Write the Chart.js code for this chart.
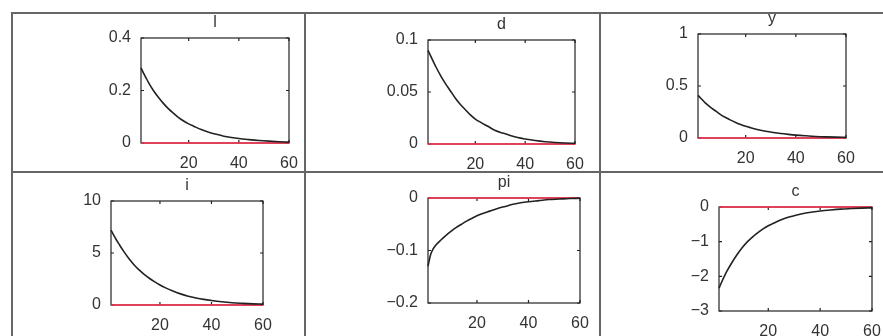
<!DOCTYPE html>
<html>
<head>
<meta charset="utf-8">
<title>Impulse responses</title>
<script src="https://cdn.jsdelivr.net/npm/chart.js@4.4.1/dist/chart.umd.min.js"></script>
<style>
  body { margin: 0; background: #fff; }
  #page { position: relative; width: 883px; height: 336px; overflow: hidden; background: #fff; }
  .rule { position: absolute; background: #666; }
  canvas { position: absolute; }
</style>
</head>
<body>
<div id="page">
  <div class="rule" style="left:11px; top:12px; width:872px; height:2px"></div>
  <div class="rule" style="left:11px; top:171px; width:872px; height:2px"></div>
  <div class="rule" style="left:11px; top:12px; width:2px; height:324px"></div>
  <div class="rule" style="left:304px; top:12px; width:2px; height:324px"></div>
  <div class="rule" style="left:599px; top:12px; width:2px; height:324px"></div>
</div>

<script>
// Periods after the shock (shared by all panels)
const periods = [1, 2, 3, 4, 6, 8, 10, 12, 14, 16, 18, 20, 22, 25, 28, 31, 34, 37, 40, 44, 48, 52, 56, 60];

// Responses
const lValues = [0.286, 0.266, 0.248, 0.23, 0.199, 0.173, 0.15, 0.13, 0.113, 0.097, 0.084, 0.073, 0.064, 0.051, 0.041, 0.033, 0.026, 0.021, 0.017, 0.013, 0.0095, 0.007, 0.005, 0.0035];
const dValues = [0.09, 0.085, 0.08, 0.075, 0.066, 0.058, 0.051, 0.044, 0.038, 0.033, 0.028, 0.024, 0.021, 0.017, 0.013, 0.0105, 0.0082, 0.0062, 0.0048, 0.0033, 0.0022, 0.0015, 0.001, 0.0007];
const yValues = [0.41, 0.385, 0.36, 0.335, 0.295, 0.26, 0.225, 0.197, 0.172, 0.15, 0.13, 0.113, 0.099, 0.08, 0.065, 0.053, 0.043, 0.035, 0.028, 0.021, 0.015, 0.011, 0.008, 0.006];
const iValues = [7.2, 6.75, 6.3, 5.9, 5.13, 4.45, 3.85, 3.35, 2.92, 2.55, 2.22, 1.93, 1.67, 1.34, 1.07, 0.85, 0.68, 0.54, 0.43, 0.31, 0.22, 0.16, 0.11, 0.08];
const piValues = [-0.13, -0.108, -0.097, -0.09, -0.08, -0.071, -0.063, -0.056, -0.05, -0.044, -0.039, -0.034, -0.03, -0.025, -0.02, -0.016, -0.012, -0.009, -0.007, -0.005, -0.003, -0.002, -0.001, -0.0005];
const cValues = [-2.34, -2.17, -2.01, -1.86, -1.6, -1.37, -1.17, -1.0, -0.86, -0.74, -0.63, -0.54, -0.47, -0.37, -0.29, -0.23, -0.18, -0.145, -0.115, -0.085, -0.06, -0.045, -0.032, -0.024];

// Steady state line
const steadyPeriods = [1, 60];
const steadyLevel = [0, 0];

// Tick labels
const xTicks = [20, 40, 60];
const lTicks = [0, 0.2, 0.4];
const dTicks = [0, 0.05, 0.1];
const yTicks = [0, 0.5, 1];
const iTicks = [0, 5, 10];
const piTicks = [-0.2, -0.1, 0];
const cTicks = [-3, -2, -1, 0];

const titles = ['l', 'd', 'y', 'i', 'pi', 'c'];

// Plot area of every panel on the page: left, top, width, height
const panels = [
    { title: titles[0], values: lValues, ticks: lTicks, box: [141, 38, 148, 105] },
    { title: titles[1], values: dValues, ticks: dTicks, box: [428, 40, 147, 104] },
    { title: titles[2], values: yValues, ticks: yTicks, box: [698, 34, 148, 104] },
    { title: titles[3], values: iValues, ticks: iTicks, box: [111, 201, 152, 104] },
    { title: titles[4], values: piValues, ticks: piTicks, box: [428, 198, 152, 105] },
    { title: titles[5], values: cValues, ticks: cTicks, box: [719, 207, 153, 104] }
];

const FONT = '"Liberation Sans", Arial, sans-serif';
const PAD_LEFT = 60, PAD_TOP = 30, PAD_RIGHT = 15, PAD_BOTTOM = 25;

// MATLAB style labels use a real minus sign
function tickText(v) {
    return String(v).replace('-', '\u2212');
}

// Box around the plot, inward ticks and the panel title
const framePlugin = {
    id: 'frame',
    beforeDatasetsDraw(chart, args, opts) {
        const { ctx, chartArea: a, scales } = chart;
        ctx.save();
        ctx.strokeStyle = '#222';
        ctx.lineWidth = 1.2;
        ctx.strokeRect(a.left, a.top, a.width, a.height);

        ctx.beginPath();
        scales.x.ticks.forEach(t => {
            const px = scales.x.getPixelForValue(t.value);
            ctx.moveTo(px, a.bottom); ctx.lineTo(px, a.bottom - 3);
            ctx.moveTo(px, a.top); ctx.lineTo(px, a.top + 3);
        });
        scales.y.ticks.forEach(t => {
            const py = scales.y.getPixelForValue(t.value);
            ctx.moveTo(a.left, py); ctx.lineTo(a.left + 3, py);
            ctx.moveTo(a.right, py); ctx.lineTo(a.right - 3, py);
        });
        ctx.stroke();

        ctx.fillStyle = '#333';
        ctx.font = '16px ' + FONT;
        ctx.textAlign = 'center';
        ctx.textBaseline = 'alphabetic';
        ctx.fillText(opts.text, (a.left + a.right) / 2, a.top - 11);
        ctx.restore();
    }
};

const page = document.getElementById('page');

panels.forEach(p => {
    const [left, top, w, h] = p.box;
    const canvas = document.createElement('canvas');
    canvas.width = w + PAD_LEFT + PAD_RIGHT;
    canvas.height = h + PAD_TOP + PAD_BOTTOM;
    canvas.style.left = (left - PAD_LEFT) + 'px';
    canvas.style.top = (top - PAD_TOP) + 'px';
    canvas.style.width = canvas.width + 'px';
    canvas.style.height = canvas.height + 'px';
    page.appendChild(canvas);

    new Chart(canvas.getContext('2d'), {
        type: 'line',
        data: {
            datasets: [
                {
                    data: periods.map((t, k) => ({ x: t, y: p.values[k] })),
                    borderColor: '#222',
                    borderWidth: 1.6,
                    pointRadius: 0,
                    cubicInterpolationMode: 'monotone',
                    clip: 3
                },
                {
                    data: steadyPeriods.map((t, k) => ({ x: t, y: steadyLevel[k] })),
                    borderColor: '#ff3050',
                    borderWidth: 1.6,
                    pointRadius: 0,
                    clip: 3
                }
            ]
        },
        plugins: [framePlugin],
        options: {
            responsive: false,
            animation: false,
            devicePixelRatio: 1,
            layout: { padding: { left: 0, top: PAD_TOP, right: PAD_RIGHT, bottom: 0 } },
            plugins: {
                legend: { display: false },
                tooltip: { enabled: false },
                frame: { text: p.title }
            },
            scales: {
                x: {
                    type: 'linear',
                    min: 1,
                    max: 60,
                    grid: { display: false },
                    border: { display: false },
                    afterBuildTicks: s => { s.ticks = xTicks.map(v => ({ value: v })); },
                    afterFit: s => { s.height = PAD_BOTTOM; },
                    ticks: {
                        padding: 3,
                        maxRotation: 0,
                        color: '#333',
                        font: { family: FONT, size: 16 },
                        callback: v => tickText(v)
                    }
                },
                y: {
                    type: 'linear',
                    min: p.ticks[0],
                    max: p.ticks[p.ticks.length - 1],
                    grid: { display: false },
                    border: { display: false },
                    afterBuildTicks: s => { s.ticks = p.ticks.map(v => ({ value: v })); },
                    afterFit: s => { s.width = PAD_LEFT; },
                    ticks: {
                        padding: 2,
                        color: '#333',
                        font: { family: FONT, size: 16 },
                        callback: v => tickText(v)
                    }
                }
            }
        }
    });
});
</script>
</body>
</html>
